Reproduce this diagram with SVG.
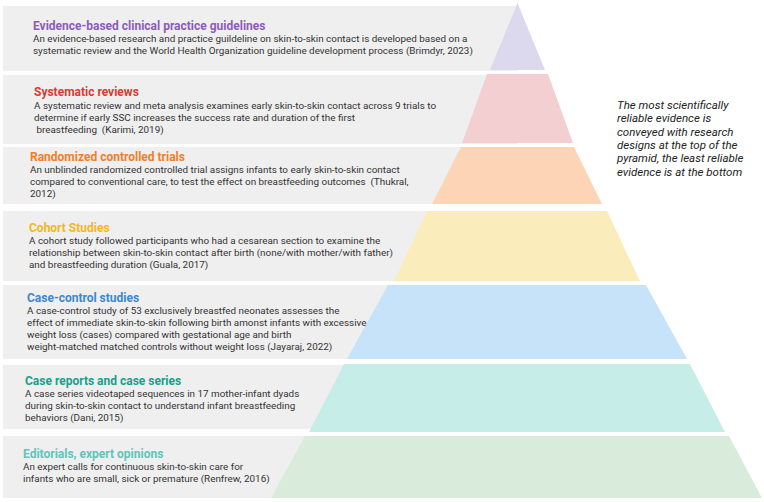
<svg xmlns="http://www.w3.org/2000/svg" width="764" height="502" viewBox="0 0 764 502">
<style>
.band{fill:#efefef}
.t{font-family:Roboto,"Liberation Sans",sans-serif;font-weight:700;font-size:12px}
.b{font-family:Roboto,"Liberation Sans",sans-serif;font-size:9.9px;fill:#333}
.note{font-family:Roboto,"Liberation Sans",sans-serif;font-style:italic;font-size:11.5px;fill:#222}
</style>
<rect width="764" height="502" fill="#ffffff"/>
<g id="level1">
<rect class="band" x="3" y="6" width="514" height="65"/>
<polygon points="517.5,3 545,70 490,70" fill="#dcd9ef"/>
<text class="t" x="33" y="30" fill="#8c5cba">Evidence-based clinical practice guidelines</text>
<text class="b" x="33" y="42">An evidence-based research and practice guildeline on skin-to-skin contact is developed based on a</text>
<text class="b" x="33" y="54">systematic review and the World Health Organization guideline development process (Brimdyr, 2023)</text>
</g>
<g id="level2">
<rect class="band" x="3" y="75" width="514" height="69"/>
<polygon points="487,74 548,74 573,143 462,143" fill="#f3cfd1"/>
<text class="t" x="34" y="96" fill="#d93b30">Systematic reviews</text>
<text class="b" x="34" y="109">A systematic review and meta analysis examines early skin-to-skin contact across 9 trials  to</text>
<text class="b" x="34" y="121">determine if early SSC increases the success rate and duration of the first</text>
<text class="b" x="34" y="133" xml:space="preserve"> breastfeeding  (Karimi, 2019)</text>
</g>
<g id="level3">
<rect class="band" x="3" y="147" width="514" height="57"/>
<polygon points="461,147 574,147 602,204 432,204" fill="#fdd5b6"/>
<text class="t" x="30" y="161" fill="#f27d28">Randomized controlled trials</text>
<text class="b" x="30" y="173">An unblinded randomized controlled trial assigns infants to early skin-to-skin contact</text>
<text class="b" x="30" y="185" xml:space="preserve">compared to conventional care, to test the effect on breastfeeding outcomes  (Thukral,</text>
<text class="b" x="30" y="197">2012)</text>
</g>
<g id="level4">
<rect class="band" x="3" y="211" width="514" height="70"/>
<polygon points="427,211 607,211 640,281 394,281" fill="#fbedbb"/>
<text class="t" x="29" y="232" fill="#f5b71a">Cohort Studies</text>
<text class="b" x="29" y="244">A cohort study followed participants who had a cesarean section to examine the</text>
<text class="b" x="29" y="256">relationship between skin-to-skin contact after birth (none/with mother/with father)</text>
<text class="b" x="29" y="268">and breastfeeding duration (Guala, 2017)</text>
</g>
<g id="level5">
<rect class="band" x="3" y="285" width="514" height="74"/>
<polygon points="388,285 646,285 687,359 347,359" fill="#c6e3fa"/>
<text class="t" x="27" y="302" fill="#3a88d0">Case-control studies</text>
<text class="b" x="27" y="314">A case-control study of 53 exclusively breastfed neonates assesses the</text>
<text class="b" x="27" y="326">effect of immediate skin-to-skin following birth amonst infants with excessive</text>
<text class="b" x="27" y="338">weight loss (cases) compared with gestational age and birth</text>
<text class="b" x="27" y="350">weight-matched matched controls without weight loss (Jayaraj, 2022)</text>
</g>
<g id="level6">
<rect class="band" x="3" y="365" width="514" height="64"/>
<polygon points="344,364 690,364 725,432 309,432" fill="#c6ede8"/>
<text class="t" x="25" y="385" fill="#16a08c">Case reports and case series</text>
<text class="b" x="25" y="397">A case series videotaped sequences in 17 mother-infant dyads</text>
<text class="b" x="25" y="409">during skin-to-skin contact to understand infant breastfeeding</text>
<text class="b" x="25" y="421">behaviors (Dani, 2015)</text>
</g>
<g id="level7">
<rect class="band" x="3" y="436" width="514" height="62"/>
<polygon points="305,436 729,436 762,498 271,498" fill="#d9ebda"/>
<text class="t" x="23" y="458" fill="#5ec5ba">Editorials, expert opinions</text>
<text class="b" x="23" y="470">An expert calls for continuous skin-to-skin care for</text>
<text class="b" x="23" y="482">infants who are small, sick or premature (Renfrew, 2016)</text>
</g>
<g id="connectors"></g>
<g id="note">
<text class="note" x="617" y="109">The most scientifically</text>
<text class="note" x="617" y="122.3">reliable evidence is</text>
<text class="note" x="617" y="135.6">conveyed with research</text>
<text class="note" x="617" y="148.9">designs at the top of the</text>
<text class="note" x="617" y="162.2">pyramid, the least reliable</text>
<text class="note" x="617" y="175.5">evidence is at the bottom</text>
</g>
</svg>
